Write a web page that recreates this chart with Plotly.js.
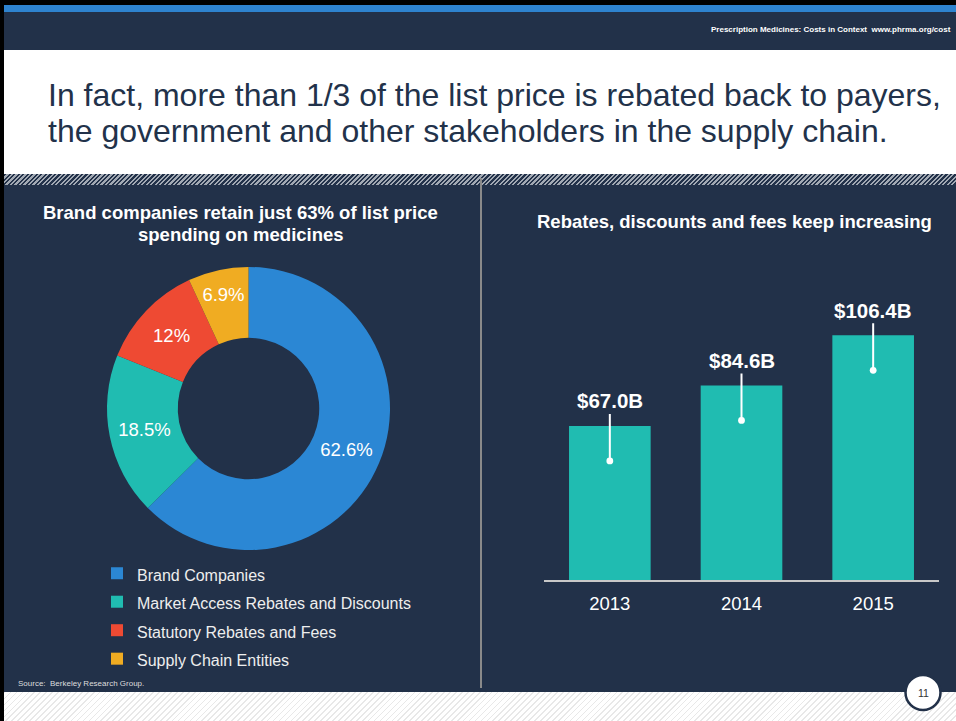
<!DOCTYPE html>
<html><head><meta charset="utf-8">
<script src="https://cdn.plot.ly/plotly-3.0.1.min.js"></script>
<style>
html,body{margin:0;padding:0;background:#fff;}
#wrap{position:relative;width:956px;height:721px;overflow:hidden;background:#fff;}
.hatch1{position:absolute;left:0;top:174px;width:956px;height:11px;background:repeating-linear-gradient(135deg,#223149 0 1.6px,#a2a9b3 1.6px 3.2px);}
.hatch2{position:absolute;left:0;top:692px;width:956px;height:29px;background:repeating-linear-gradient(135deg,#ffffff 0 3px,#e8e8e8 3px 4.2px);}
#chart{position:absolute;left:0;top:0;width:956px;height:721px;}
</style></head><body>
<div id="wrap"><div class="hatch1"></div><div class="hatch2"></div><div id="chart"></div></div>
<script>
const W = 956, H = 721;
const px = x => x / W, py = y => 1 - y / H;

// Donut data
const shareLabels = ['Brand Companies', 'Market Access Rebates and Discounts', 'Statutory Rebates and Fees', 'Supply Chain Entities'];
const shareValues = [62.6, 18.5, 12, 6.9];
const shareText = ['62.6%', '18.5%', '12%', '6.9%'];
const shareColors = ['#2b87d4', '#20bcb1', '#ee4a33', '#f0ac22'];

// Bar data
const years = ['2013', '2014', '2015'];
const rebates = [67.0, 84.6, 106.4];
const rebateLabels = ['$67.0B', '$84.6B', '$106.4B'];

const NAVY = '#223149';
const FONT = 'Liberation Sans, Arial, Helvetica, sans-serif';

const pie = {
  type: 'pie', values: shareValues, text: shareText,
  labels: shareLabels.map(l => '<span style="font-size:16px">' + l + '</span>'),
  textinfo: 'text', textposition: 'inside', insidetextorientation: 'horizontal',
  insidetextfont: {family: FONT, size: 18.5, color: '#ffffff'},
  marker: {colors: shareColors, line: {width: 0}},
  hole: 0.5, sort: false, direction: 'clockwise', rotation: 0,
  domain: {x: [px(107), px(390)], y: [py(550), py(267)]},
  hoverinfo: 'none', showlegend: true
};

const bar = {
  type: 'bar', x: years, y: rebates, xaxis: 'x', yaxis: 'y',
  marker: {color: '#20bcb1', line: {width: 0}}, hoverinfo: 'none', showlegend: false
};

const annotations = [
  {text: '<b>Prescription Medicines: Costs in Context  www.phrma.org/cost</b>', x: px(953), y: py(30), xanchor: 'right', yanchor: 'middle',
   font: {family: FONT, size: 8, color: '#ffffff'}},
  {text: 'In fact, more than 1/3 of the list price is rebated back to payers,', x: px(46), y: py(95.5), xanchor: 'left', yanchor: 'middle',
   font: {family: FONT, size: 32, color: '#22324a'}},
  {text: 'the government and other stakeholders in the supply chain.', x: px(46), y: py(131), xanchor: 'left', yanchor: 'middle',
   font: {family: FONT, size: 32, color: '#22324a'}},
  {text: '<b>Brand companies retain just 63% of list price</b>', x: px(241), y: py(212), xanchor: 'center', yanchor: 'middle',
   font: {family: FONT, size: 18.5, color: '#ffffff'}},
  {text: '<b>spending on medicines</b>', x: px(241), y: py(234), xanchor: 'center', yanchor: 'middle',
   font: {family: FONT, size: 18.5, color: '#ffffff'}},
  {text: '<b>Rebates, discounts and fees keep increasing</b>', x: px(734.5), y: py(222), xanchor: 'center', yanchor: 'middle',
   font: {family: FONT, size: 18.5, color: '#ffffff'}},
  {text: 'Source:  Berkeley Research Group.', x: px(16), y: py(683), xanchor: 'left', yanchor: 'middle',
   font: {family: FONT, size: 8, color: '#dddddd'}},
  {text: '11', x: px(923), y: py(693), xanchor: 'center', yanchor: 'middle',
   font: {family: FONT, size: 10.5, color: '#333333'}}
];
annotations.forEach(a => { a.xref = 'paper'; a.yref = 'paper'; a.showarrow = false; });

years.forEach((yr, i) => {
  annotations.push({
    xref: 'x', yref: 'y', x: i, y: rebates[i], text: '<b>' + rebateLabels[i] + '</b>',
    showarrow: true, arrowhead: 6, arrowsize: 0.85, arrowwidth: 2, arrowcolor: '#ffffff',
    ax: 0, ay: -60, yshift: -35,
    font: {family: FONT, size: 20.5, color: '#ffffff'}
  });
});

const shapes = [
  {type: 'rect', x0: 0, x1: 1, y0: py(0), y1: py(5), fillcolor: '#000000'},
  {type: 'rect', x0: 0, x1: 1, y0: py(5), y1: py(12), fillcolor: '#2e83cf'},
  {type: 'rect', x0: 0, x1: 1, y0: py(12), y1: py(50), fillcolor: NAVY},
  {type: 'rect', x0: 0, x1: 1, y0: py(185), y1: py(692), fillcolor: NAVY},
  {type: 'rect', x0: 0, x1: px(4), y0: 0, y1: 1, fillcolor: '#000000'},
  {type: 'line', x0: px(481), x1: px(481), y0: py(178), y1: py(688), line: {color: '#8a8a8a', width: 2}},
  {type: 'circle', x0: px(905.5), x1: px(940.5), y0: py(710), y1: py(675), fillcolor: '#ffffff', line: {color: NAVY, width: 2.5}, layer: 'above'}
];
shapes.forEach(s => { s.xref = 'paper'; s.yref = 'paper'; if (!s.line) s.line = {width: 0}; if (!s.layer) s.layer = 'below'; });

const layout = {
  width: W, height: H, margin: {l: 0, r: 0, t: 0, b: 0, pad: 0},
  paper_bgcolor: 'rgba(0,0,0,0)', plot_bgcolor: 'rgba(0,0,0,0)',
  font: {family: FONT, color: '#ffffff'},
  showlegend: true,
  legend: {x: px(97), y: py(554), xanchor: 'left', yanchor: 'top', bgcolor: 'rgba(0,0,0,0)',
           font: {family: FONT, size: 19.6, color: '#eeeeee'}, traceorder: 'normal'},
  xaxis: {domain: [px(544), px(939)], anchor: 'y', type: 'category', range: [-0.5, 2.5], showline: true, linecolor: '#c8c8c8', linewidth: 1.5,
          ticks: 'outside', ticklen: 6, tickcolor: 'rgba(0,0,0,0)', showgrid: false, zeroline: false,
          tickfont: {family: FONT, size: 18.5, color: '#ffffff'}, fixedrange: true},
  yaxis: {domain: [py(580), py(304)], range: [0, 120], visible: false, fixedrange: true},
  bargap: 0.38,
  annotations: annotations, shapes: shapes
};

Plotly.newPlot('chart', [pie, bar], layout, {displayModeBar: false, staticPlot: true});
</script>
</body></html>
